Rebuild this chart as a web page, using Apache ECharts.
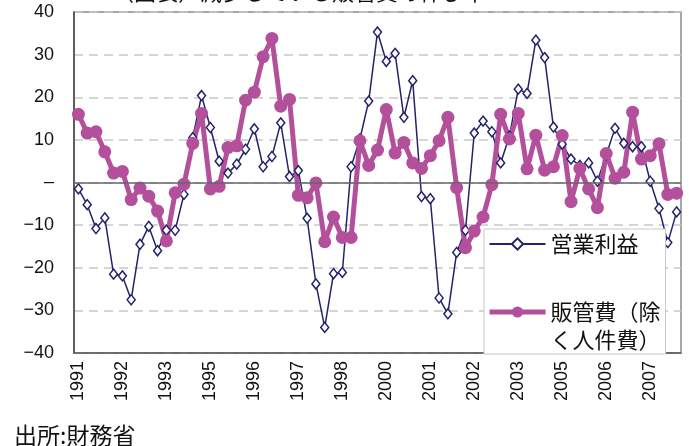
<!DOCTYPE html>
<html>
<head>
<meta charset="utf-8">
<script src="https://cdn.jsdelivr.net/npm/echarts@6/dist/echarts.min.js"></script>
<style>
  html, body { margin: 0; padding: 0; background: #fff; }
  #main { width: 689px; height: 446px; }
</style>
</head>
<body>
<div id="main"></div>
<script>
// quarterly, starting 1991Q2
var quarters = [
    '1991Q2', '1991Q3', '1991Q4',
    '1992Q1', '1992Q2', '1992Q3', '1992Q4',
    '1993Q1', '1993Q2', '1993Q3', '1993Q4',
    '1994Q1', '1994Q2', '1994Q3', '1994Q4',
    '1995Q1', '1995Q2', '1995Q3', '1995Q4',
    '1996Q1', '1996Q2', '1996Q3', '1996Q4',
    '1997Q1', '1997Q2', '1997Q3', '1997Q4',
    '1998Q1', '1998Q2', '1998Q3', '1998Q4',
    '1999Q1', '1999Q2', '1999Q3', '1999Q4',
    '2000Q1', '2000Q2', '2000Q3', '2000Q4',
    '2001Q1', '2001Q2', '2001Q3', '2001Q4',
    '2002Q1', '2002Q2', '2002Q3', '2002Q4',
    '2003Q1', '2003Q2', '2003Q3', '2003Q4',
    '2004Q1', '2004Q2', '2004Q3', '2004Q4',
    '2005Q1', '2005Q2', '2005Q3', '2005Q4',
    '2006Q1', '2006Q2', '2006Q3', '2006Q4',
    '2007Q1', '2007Q2', '2007Q3', '2007Q4',
    '2008Q1', '2008Q2'
];

// 営業利益 (前年比 %)
var operatingProfit = [
    -1.5, -5.2, -10.8, -8.3, -21.5, -21.9, -27.5, -14.5, -10.3, -16.0,
    -11.2, -11.2, -2.8, 10.5, 20.4, 12.9, 5.0, 2.2, 4.3, 7.8,
    12.6, 3.7, 6.1, 14.0, 1.4, 2.8, -8.4, -23.8, -34.0, -21.4,
    -21.1, 3.7, 10.2, 19.1, 35.3, 28.4, 30.3, 15.3, 23.9, -3.3,
    -3.8, -27.1, -30.8, -16.4, -11.2, 11.6, 14.4, 11.9, 4.6, 10.9,
    21.9, 20.9, 33.4, 29.3, 13.0, 9.0, 5.5, 4.0, 4.6, 0.3,
    6.5, 12.7, 9.2, 8.4, 8.4, 0.3, -6.1, -14.1, -6.9
];

// 販管費(除く人件費)
var sgaExPersonnel = [
    16.0, 11.6, 11.9, 7.2, 2.2, 2.6, -4.0, -1.3, -3.2, -6.7,
    -13.7, -2.4, -0.4, 9.2, 16.2, -1.5, -0.9, 8.2, 8.6, 19.3,
    21.2, 29.5, 33.8, 17.9, 19.5, -3.0, -3.6, -0.1, -13.9, -8.1,
    -12.9, -12.9, 9.8, 4.0, 7.6, 17.1, 6.9, 9.4, 4.6, 3.3,
    6.3, 9.8, 15.3, -1.2, -15.3, -11.4, -8.1, -0.5, 16.0, 10.2,
    16.2, 3.2, 11.1, 2.9, 3.7, 11.0, -4.5, 3.3, -1.5, -5.9,
    6.8, 1.0, 2.4, 16.5, 5.5, 6.3, 9.1, -2.8, -2.5
];

var NAVY = '#22226e';
var PURPLE = '#b44f9c';
var JP_FONT = '"Noto Sans CJK JP", "Noto Sans", sans-serif';
var NUM_FONT = '"Liberation Sans", Arial, sans-serif';
var SGA_NAME = '販管費（除\nく人件費）';

var chart = echarts.init(document.getElementById('main'), null, { renderer: 'canvas' });

var option = {
    animation: false,
    backgroundColor: '#fff',
    grid: {
        left: 74,
        right: 8,
        top: 12,
        bottom: 93,
        show: true,
        borderColor: '#8a8a8a',
        borderWidth: 1.5
    },
    legend: {
        orient: 'vertical',
        left: 484,
        top: 229,
        padding: [1, 5, 0, 3],
        itemWidth: 56,
        itemHeight: 14,
        itemGap: 12,
        backgroundColor: '#fff',
        borderColor: '#c8c8c8',
        borderWidth: 1,
        textStyle: {
            fontFamily: JP_FONT,
            fontSize: 22,
            lineHeight: 28,
            color: '#111'
        },
        // the icon sits on the first line of the two-line name
        formatter: function(name) {
            return name === SGA_NAME ? '\n' + name : name;
        },
        data: [
            { name: '営業利益' },
            { name: SGA_NAME, lineStyle: { width: 5 } }
        ]
    },
    xAxis: {
        type: 'category',
        data: quarters,
        boundaryGap: true,
        axisLine: { onZero: false, lineStyle: { color: '#555', width: 1.5 } },
        axisTick: { show: false },
        axisLabel: {
            interval: 4,
            rotate: 90,
            margin: 8,
            fontFamily: NUM_FONT,
            fontSize: 18,
            color: '#111',
            formatter: function(v) { return v.slice(0, 4); }
        },
        splitLine: { show: false }
    },
    yAxis: {
        type: 'value',
        min: -40,
        max: 40,
        interval: 10,
        axisLine: { show: true, lineStyle: { color: '#444', width: 1.5 } },
        axisTick: { show: false },
        axisLabel: {
            margin: 20,
            fontFamily: NUM_FONT,
            fontSize: 18,
            color: '#111',
            formatter: function(v) {
                if (v === 0) return '–';
                return String(v).replace('-', '−');
            }
        },
        splitLine: { show: true, lineStyle: { color: '#c8c8c8', width: 1.5, type: [9, 6] } }
    },
    series: [
        {
            name: '営業利益',
            type: 'line',
            data: operatingProfit,
            symbol: 'diamond',
            symbolSize: [8, 10],
            showAllSymbol: true,
            lineStyle: { color: NAVY, width: 1.5 },
            itemStyle: { color: '#fff', borderColor: NAVY, borderWidth: 1.5 },
            markLine: {
                silent: true,
                symbol: 'none',
                label: { show: false },
                lineStyle: { color: '#666', type: 'solid', width: 1.5 },
                data: [{ yAxis: 0 }]
            }
        },
        {
            name: SGA_NAME,
            type: 'line',
            data: sgaExPersonnel,
            symbol: 'circle',
            symbolSize: 13,
            showAllSymbol: true,
            lineStyle: { color: PURPLE, width: 5 },
            itemStyle: { color: PURPLE }
        }
    ],
    graphic: [
        {
            type: 'text',
            left: 112,
            top: -19,
            style: {
                text: '（図表）減少している販管費の伸び率',
                font: '22px ' + JP_FONT,
                fill: '#111'
            }
        },
        {
            type: 'text',
            left: 14,
            top: 424,
            style: {
                text: '出所:財務省',
                font: '23px ' + JP_FONT,
                fill: '#111'
            }
        }
    ]
};

chart.setOption(option);
</script>
</body>
</html>
